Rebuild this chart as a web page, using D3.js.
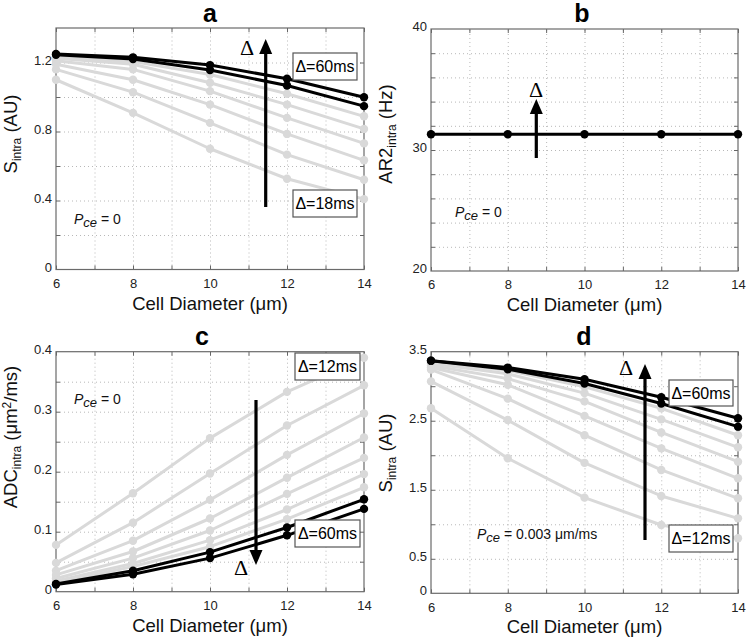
<!DOCTYPE html>
<html><head><meta charset="utf-8">
<script src="https://cdn.jsdelivr.net/npm/d3@7"></script>
<style>body{margin:0;background:#fff}svg{display:block}</style>
</head><body>
<svg id="c" width="748" height="642"></svg>
<script>
// ---------- DATA ----------
const cellDiameter = [6, 8, 10, 12, 14];

// Panel a : S_intra (AU), Pce = 0, Δ = 18..60 ms
const deltaA = [18, 24, 30, 36, 42, 48, 54, 60];
const sIntraA = [
  [1.10, 0.908, 0.70, 0.526, 0.408],
  [1.16, 1.028, 0.85, 0.666, 0.520],
  [1.19, 1.10, 0.956, 0.786, 0.633],
  [1.21, 1.16, 1.034, 0.879, 0.731],
  [1.225, 1.19, 1.083, 0.956, 0.815],
  [1.235, 1.205, 1.13, 1.019, 0.888],
  [1.245, 1.22, 1.156, 1.067, 0.947],
  [1.25, 1.23, 1.185, 1.106, 0.999]
];

// Panel b : AR2_intra (Hz), identical for all Δ
const deltaB = [18, 24, 30, 36, 42, 48, 54, 60];
const ar2B = [31.3, 31.3, 31.3, 31.3, 31.3];

// Panel c : ADC_intra (µm²/ms), Δ = 12..60 ms
const deltaC = [12, 18, 24, 30, 36, 42, 48, 54, 60];
const adcC = [
  [0.078, 0.164, 0.256, 0.333, 0.390],
  [0.048, 0.115, 0.197, 0.277, 0.344],
  [0.035, 0.085, 0.153, 0.228, 0.297],
  [0.028, 0.067, 0.122, 0.190, 0.257],
  [0.022, 0.056, 0.102, 0.163, 0.223],
  [0.018, 0.047, 0.086, 0.137, 0.196],
  [0.015, 0.042, 0.075, 0.121, 0.174],
  [0.013, 0.035, 0.066, 0.107, 0.154],
  [0.012, 0.029, 0.056, 0.094, 0.138]
];

// Panel d : S_intra (AU), Pce = 0.003 µm/ms, Δ = 12..60 ms
const deltaD = [12, 18, 24, 30, 36, 42, 48, 54, 60];
const sIntraD = [
  [2.68, 1.956, 1.386, 0.99, 0.797],
  [3.07, 2.51, 1.89, 1.41, 1.086],
  [3.24, 2.82, 2.29, 1.787, 1.376],
  [3.27, 3.02, 2.57, 2.10, 1.666],
  [3.30, 3.11, 2.78, 2.33, 1.907],
  [3.33, 3.18, 2.90, 2.52, 2.115],
  [3.35, 3.23, 2.99, 2.68, 2.29],
  [3.37, 3.245, 3.04, 2.75, 2.414],
  [3.37, 3.27, 3.10, 2.84, 2.535]
];

// tick labels
const xTickLabels = [6, 8, 10, 12, 14];
const xGridVals = [7, 8, 9, 10, 11, 12, 13];
const yTicksA = [0, 0.4, 0.8, 1.2];
const yTicksB = [20, 30, 40];
const yTicksC = [0, 0.1, 0.2, 0.3, 0.4];
const yTicksD = [0, 0.5, 1.5, 2.5, 3.5];

// ---------- DRAW ----------
const svg = d3.select('#c');
svg.append('rect').attr('width', 748).attr('height', 642).attr('fill', '#fff');

const GRAY = '#d9d9d9';
const FONT = 'Liberation Sans, Arial, Helvetica, sans-serif';

function panel(o) {
  const xs = d3.scaleLinear().domain([6, 14]).range([o.x0, o.x1]);
  const ys = d3.scaleLinear().domain(o.yDomain).range([o.y1, o.y0]);
  const g = svg.append('g');
  const h = o.y1 - o.y0, w = o.x1 - o.x0;

  // grid
  const gx = g.append('g').attr('transform', `translate(0,${o.y1})`)
    .call(d3.axisBottom(xs).tickValues(xGridVals).tickSize(-h).tickFormat(''));
  const gy = g.append('g').attr('transform', `translate(${o.x0},0)`)
    .call(d3.axisLeft(ys).tickValues(o.yGrid).tickSize(-w).tickFormat(''));
  [gx, gy].forEach(s => {
    s.select('.domain').remove();
    s.selectAll('line').attr('stroke', '#b8b8b8').attr('stroke-width', 1).attr('stroke-dasharray', '1,3');
  });

  // inward ticks on all four sides
  const tk = 4;
  const allX = [6, 7, 8, 9, 10, 11, 12, 13, 14];
  const tb = g.append('g').attr('transform', `translate(0,${o.y1})`).call(d3.axisBottom(xs).tickValues(allX).tickSize(-tk).tickFormat(''));
  const tt = g.append('g').attr('transform', `translate(0,${o.y0})`).call(d3.axisTop(xs).tickValues(allX).tickSize(-tk).tickFormat(''));
  const tl = g.append('g').attr('transform', `translate(${o.x0},0)`).call(d3.axisLeft(ys).tickValues(o.yGrid).tickSize(-tk).tickFormat(''));
  const tr = g.append('g').attr('transform', `translate(${o.x1},0)`).call(d3.axisRight(ys).tickValues(o.yGrid).tickSize(-tk).tickFormat(''));
  [tb, tt, tl, tr].forEach(s => { s.select('.domain').remove(); s.selectAll('line').attr('stroke', '#666'); });

  // frame
  g.append('rect').attr('x', o.x0).attr('y', o.y0).attr('width', w).attr('height', h)
    .attr('fill', 'none').attr('stroke', '#6a6a6a').attr('stroke-width', 1.2);

  // tick labels
  const lx = g.append('g').attr('transform', `translate(0,${o.y1})`)
    .call(d3.axisBottom(xs).tickValues(xTickLabels).tickSize(0).tickPadding(9).tickFormat(d3.format('d')));
  const ly = g.append('g').attr('transform', `translate(${o.x0},0)`)
    .call(d3.axisLeft(ys).tickValues(o.yTicks).tickSize(0).tickPadding(4).tickFormat(o.fmt));
  [lx, ly].forEach(s => {
    s.select('.domain').remove();
    s.selectAll('text').attr('font-family', FONT).attr('font-size', 13).attr('fill', '#222');
  });
  ly.selectAll('text').attr('dy', '0.12em');

  // series (gray first, black on top)
  const line = d3.line().x((d, i) => xs(cellDiameter[i])).y(d => ys(d));
  const sorted = o.series.map((s, i) => ({ s, i, black: o.blackSet.includes(i) }))
    .sort((a, b) => (a.black - b.black));
  sorted.forEach(({ s, black }) => {
    const col = black ? '#000' : GRAY;
    g.append('path').attr('d', line(s)).attr('fill', 'none').attr('stroke', col)
      .attr('stroke-width', 3).attr('stroke-linejoin', 'round');
    g.selectAll(null).data(s).enter().append('circle')
      .attr('cx', (d, i) => xs(cellDiameter[i])).attr('cy', d => ys(d))
      .attr('r', 4.2).attr('fill', col);
  });

  // title
  g.append('text').attr('x', o.titleX).attr('y', o.titleY).attr('text-anchor', 'middle')
    .attr('font-family', FONT).attr('font-weight', 'bold').attr('font-size', 25).attr('fill', '#000').text(o.title);

  // x label
  const xl = g.append('text').attr('x', (o.x0 + o.x1) / 2).attr('y', o.y1 + 40).attr('text-anchor', 'middle')
    .attr('font-family', FONT).attr('font-size', 18.5).attr('fill', '#111');
  xl.append('tspan').text('Cell Diameter (');
  xl.append('tspan').text('μ');
  xl.append('tspan').text('m)');

  // y label
  const yl = g.append('text').attr('transform', `translate(${o.yLabelX},${o.yLabelY}) rotate(-90)`)
    .attr('text-anchor', 'middle').attr('font-family', FONT).attr('font-size', 18.5).attr('fill', '#111');
  o.yLabel.forEach(p => {
    const t = yl.append('tspan').text(p.t);
    if (p.sub) t.attr('font-size', 12).attr('dy', 4);
    if (p.back) t.attr('dy', -4);
    if (p.sup) t.attr('font-size', 12).attr('dy', -6);
    if (p.backsup) t.attr('dy', 6);
  });

  return { xs, ys, g };
}

function box(g, x, y, w, h, label) {
  g.append('rect').attr('x', x).attr('y', y).attr('width', w).attr('height', h)
    .attr('fill', '#fff').attr('stroke', '#555').attr('stroke-width', 1.2);
  g.append('text').attr('x', x + w / 2).attr('y', y + h / 2).attr('dy', '0.36em')
    .attr('text-anchor', 'middle').attr('font-family', FONT).attr('font-size', 16).attr('fill', '#000').text(label);
}

function arrow(g, x, yFrom, yTo) {
  const dir = yTo < yFrom ? 1 : -1; // 1 = up
  const headH = 15, headW = 6.5;
  g.append('line').attr('x1', x).attr('x2', x).attr('y1', yFrom).attr('y2', yTo + dir * headH * 0.8)
    .attr('stroke', '#000').attr('stroke-width', 3.2);
  g.append('path').attr('d', `M${x},${yTo} L${x - headW},${yTo + dir * headH} L${x + headW},${yTo + dir * headH} Z`).attr('fill', '#000');
}

function bigDelta(g, x, y) {
  g.append('text').attr('x', x).attr('y', y).attr('dy', '0.35em').attr('text-anchor', 'middle')
    .attr('font-family', 'Liberation Serif, Times New Roman, serif').attr('font-size', 22).attr('fill', '#000').text('Δ');
}

function pce(g, x, y, rest) {
  const t = g.append('text').attr('x', x).attr('y', y).attr('font-family', FONT).attr('font-size', 14).attr('fill', '#111');
  t.append('tspan').attr('font-style', 'italic').text('P');
  t.append('tspan').attr('font-style', 'italic').attr('font-size', 13).attr('dy', 3).text('ce');
  t.append('tspan').attr('dy', -3).text(rest);
}

const fmt1 = d => d === 0 ? '0' : d3.format('.1f')(d);

// a
const A = panel({
  x0: 56, x1: 364, y0: 28, y1: 269.5, yDomain: [0, 1.4],
  yTicks: yTicksA, yGrid: [0.2, 0.4, 0.6, 0.8, 1.0, 1.2], fmt: fmt1,
  series: sIntraA, blackSet: [6, 7], title: 'a', titleX: 210, titleY: 22,
  yLabelX: 17, yLabelY: 134,
  yLabel: [{ t: 'S' }, { t: 'intra', sub: true }, { t: ' (AU)', back: true }]
});
arrow(A.g, 265.7, 207, 39);
bigDelta(A.g, 247, 47);
box(A.g, 293, 53, 64, 27, 'Δ=60ms');
box(A.g, 293, 190, 64, 27, 'Δ=18ms');
pce(A.g, 74, 224, ' = 0');

// b
const B = panel({
  x0: 431, x1: 738, y0: 29, y1: 271, yDomain: [20, 40],
  yTicks: yTicksB, yGrid: [22, 24, 26, 28, 30, 32, 34, 36, 38], fmt: d3.format('d'),
  series: [ar2B], blackSet: [0], title: 'b', titleX: 582, titleY: 22,
  yLabelX: 392, yLabelY: 134,
  yLabel: [{ t: 'AR2' }, { t: 'intra', sub: true }, { t: ' (Hz)', back: true }]
});
arrow(B.g, 536.3, 158, 99);
bigDelta(B.g, 536, 89);
pce(B.g, 455, 217, ' = 0');

// c
const C = panel({
  x0: 56, x1: 364, y0: 351.7, y1: 591.7, yDomain: [0, 0.4],
  yTicks: yTicksC, yGrid: [0.05, 0.1, 0.15, 0.2, 0.25, 0.3, 0.35], fmt: fmt1,
  series: adcC, blackSet: [7, 8], title: 'c', titleX: 202, titleY: 345,
  yLabelX: 17, yLabelY: 437,
  yLabel: [{ t: 'ADC' }, { t: 'intra', sub: true }, { t: ' (μm', back: true }, { t: '2', sup: true }, { t: '/ms)', backsup: true }]
});
arrow(C.g, 256, 400, 565);
bigDelta(C.g, 241, 567);
box(C.g, 295, 353, 65, 27, 'Δ=12ms');
box(C.g, 295, 520, 65, 27, 'Δ=60ms');
pce(C.g, 74, 404, ' = 0');

// d
const D = panel({
  x0: 431, x1: 738, y0: 351.7, y1: 593.3, yDomain: [0, 3.5],
  yTicks: yTicksD, yGrid: [0.5, 1, 1.5, 2, 2.5, 3], fmt: d => d === 0 ? '0' : d3.format('.1f')(d),
  series: sIntraD, blackSet: [7, 8], title: 'd', titleX: 584, titleY: 345,
  yLabelX: 392, yLabelY: 453,
  yLabel: [{ t: 'S' }, { t: 'intra', sub: true }, { t: ' (AU)', back: true }]
});
arrow(D.g, 645, 540, 364);
bigDelta(D.g, 626, 367);
box(D.g, 669, 380, 64, 26, 'Δ=60ms');
box(D.g, 669, 525, 64, 27, 'Δ=12ms');
pce(D.g, 477, 539, ' = 0.003 μm/ms');
</script>
</body></html>
